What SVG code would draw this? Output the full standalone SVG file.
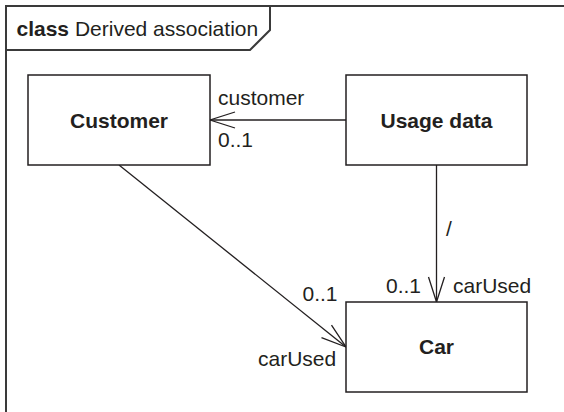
<svg xmlns="http://www.w3.org/2000/svg" width="564" height="412" viewBox="0 0 564 412">
<defs>
<style>
.frame{fill:none;stroke:#3a3a3a;stroke-width:2}
.box{fill:#fff;stroke:#231f20;stroke-width:1.5}
.ln{fill:none;stroke:#231f20;stroke-width:1.3}
text{font-family:"Liberation Sans",Arial,sans-serif;font-size:21px;fill:#231f20}
.b{font-weight:bold}
.c{text-anchor:middle}
</style>
<marker id="open" viewBox="0 0 30 20" refX="28" refY="10" markerWidth="30" markerHeight="20" markerUnits="userSpaceOnUse" orient="auto">
<path d="M3,2 L28,10 L3,18" fill="none" stroke="#231f20" stroke-width="1.3"/>
</marker>
</defs>
<rect width="564" height="412" fill="#fff"/>
<g id="frame">
<path class="frame" d="M6,412 V6 H564"/>
<path class="frame" d="M6,50 H250 L270,30 V6"/>
<text x="16.5" y="36"><tspan class="b">class</tspan> Derived association</text>
</g>
<g id="connectors">
<path class="ln" d="M346,120 H210" marker-end="url(#open)"/>
<path class="ln" d="M436.5,165 V302" marker-end="url(#open)"/>
<path class="ln" d="M119,165 L346,347" marker-end="url(#open)"/>
<text x="218" y="105">customer</text>
<text x="218" y="147">0..1</text>
<text x="446" y="236">/</text>
<text x="386" y="293">0..1</text>
<text x="453" y="293">carUsed</text>
<text x="302.5" y="301">0..1</text>
<text x="258" y="366">carUsed</text>
</g>
<g id="customer">
<rect class="box" x="28" y="75" width="182" height="90"/>
<text class="b c" x="119" y="128">Customer</text>
</g>
<g id="usage">
<rect class="box" x="346" y="75" width="181" height="90"/>
<text class="b c" x="436.5" y="128">Usage data</text>
</g>
<g id="car">
<rect class="box" x="346" y="302" width="181" height="90"/>
<text class="b c" x="436.5" y="354">Car</text>
</g>
</svg>
